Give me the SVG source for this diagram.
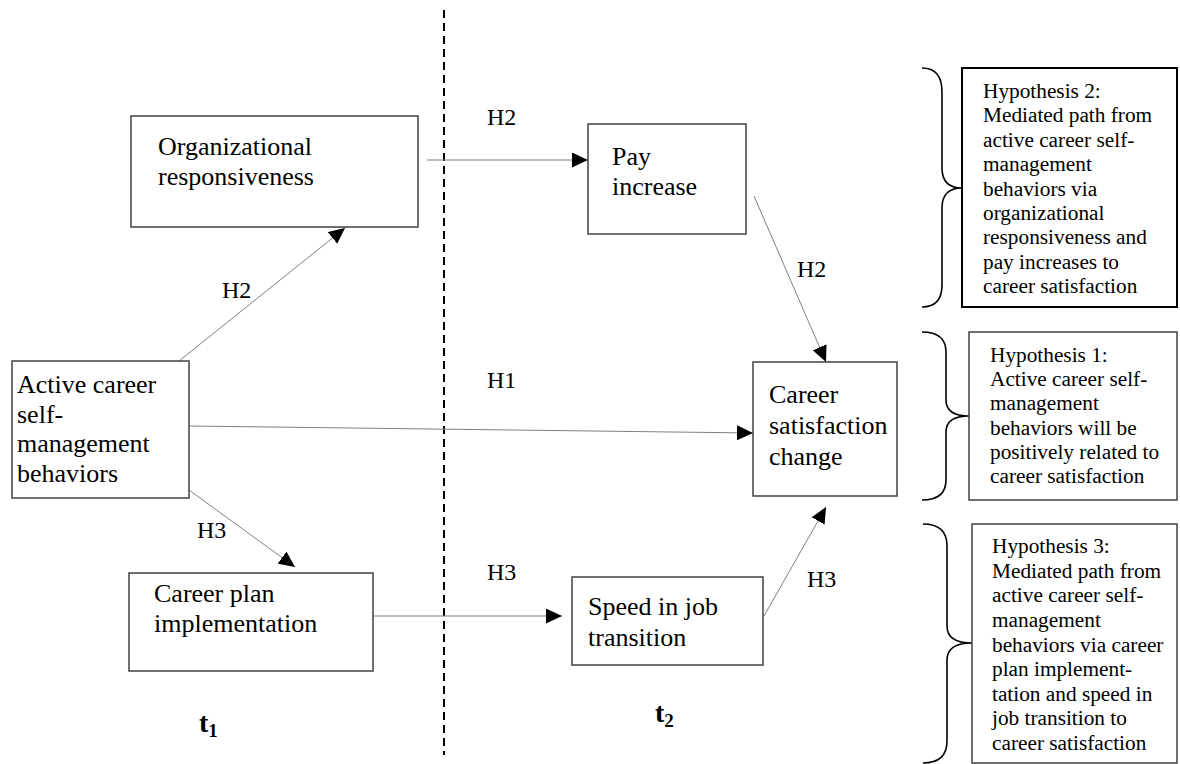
<svg xmlns="http://www.w3.org/2000/svg" width="1180" height="764" viewBox="0 0 1180 764">
<defs>
<style>
.box{fill:#fff;stroke:#404040;stroke-width:1.5}
.hbox{fill:#fff;stroke:#000;stroke-width:2}
.t{font-family:"Liberation Serif","Times New Roman",serif;font-size:26px;fill:#000}
.h{font-family:"Liberation Serif","Times New Roman",serif;font-size:21.3px;fill:#000}
.lbl{font-family:"Liberation Serif","Times New Roman",serif;font-size:24px;fill:#000}
.tb{font-family:"Liberation Serif","Times New Roman",serif;font-size:28px;font-weight:bold;fill:#000}
.c{fill:none;stroke:#808080;stroke-width:1}
.br{fill:none;stroke:#000;stroke-width:1.6}
</style>
<marker id="ah" markerUnits="userSpaceOnUse" markerWidth="17" markerHeight="15" refX="16" refY="7.5" orient="auto">
<path d="M0,0 L16,7.5 L0,15 z" fill="#000"/>
</marker>
</defs>
<rect width="1180" height="764" fill="#fff"/>

<line x1="444" y1="10" x2="444" y2="755" stroke="#000" stroke-width="2" stroke-dasharray="8,5"/>

<g id="connectors">
<line class="c" x1="179" y1="361" x2="345" y2="228" marker-end="url(#ah)"/>
<line class="c" x1="427" y1="160" x2="588" y2="160" marker-end="url(#ah)"/>
<line class="c" x1="754" y1="196" x2="826" y2="362" marker-end="url(#ah)"/>
<line class="c" x1="189" y1="426" x2="753" y2="433" marker-end="url(#ah)"/>
<line class="c" x1="189" y1="490" x2="295" y2="567" marker-end="url(#ah)"/>
<line class="c" x1="371" y1="616" x2="562" y2="616" marker-end="url(#ah)"/>
<line class="c" x1="764" y1="616" x2="826" y2="507" marker-end="url(#ah)"/>
<text class="lbl" x="222" y="298">H2</text>
<text class="lbl" x="487" y="125">H2</text>
<text class="lbl" x="797" y="277">H2</text>
<text class="lbl" x="487" y="388">H1</text>
<text class="lbl" x="197" y="538">H3</text>
<text class="lbl" x="487" y="580">H3</text>
<text class="lbl" x="807" y="587">H3</text>
</g>

<g id="org">
<rect class="box" x="131" y="116" width="287" height="111"/>
<text class="t" x="158" y="155">Organizational</text>
<text class="t" x="158" y="185">responsiveness</text>
</g>

<g id="pay">
<rect class="box" x="588" y="124" width="158" height="110"/>
<text class="t" x="612" y="165">Pay</text>
<text class="t" x="612" y="195">increase</text>
</g>

<g id="active">
<rect class="box" x="12" y="361" width="177" height="137"/>
<text class="t" x="17" y="393">Active career</text>
<text class="t" x="17" y="423">self-</text>
<text class="t" x="17" y="452">management</text>
<text class="t" x="17" y="482">behaviors</text>
</g>

<g id="satisfaction">
<rect class="box" x="753" y="362" width="144" height="134"/>
<text class="t" x="769" y="403">Career</text>
<text class="t" x="769" y="434">satisfaction</text>
<text class="t" x="769" y="465">change</text>
</g>

<g id="plan">
<rect class="box" x="129" y="573" width="244" height="98"/>
<text class="t" x="154" y="602">Career plan</text>
<text class="t" x="154" y="632">implementation</text>
</g>

<g id="speed">
<rect class="box" x="572" y="577" width="191" height="88"/>
<text class="t" x="588" y="615">Speed in job</text>
<text class="t" x="588" y="646">transition</text>
</g>

<g id="t1"><text class="tb" x="199" y="732">t<tspan font-size="19" dy="5">1</tspan></text></g>
<g id="t2"><text class="tb" x="655" y="722">t<tspan font-size="19" dy="5">2</tspan></text></g>

<g id="hyp2">
<path class="br" d="M922,68 C935,68 942,76 942,92 L942,168 C942,182 950,188 962,188 C950,188 942,194 942,208 L942,285 C942,300 935,307 922,307"/>
<rect class="hbox" x="962" y="68" width="215" height="239"/>
<text class="h" x="983" y="98">Hypothesis 2:</text>
<text class="h" x="983" y="122">Mediated path from</text>
<text class="h" x="983" y="147">active career self-</text>
<text class="h" x="983" y="171">management</text>
<text class="h" x="983" y="196">behaviors via</text>
<text class="h" x="983" y="220">organizational</text>
<text class="h" x="983" y="244">responsiveness and</text>
<text class="h" x="983" y="269">pay increases to</text>
<text class="h" x="983" y="293">career satisfaction</text>
</g>

<g id="hyp1">
<path class="br" d="M922,332 C938,332 946,338 946,352 L946,400 C946,411 955,416 969,416 C955,416 946,421 946,432 L946,480 C946,494 938,500 922,500"/>
<rect class="box" x="969" y="332" width="208" height="168"/>
<text class="h" x="990" y="362">Hypothesis 1:</text>
<text class="h" x="990" y="386">Active career self-</text>
<text class="h" x="990" y="410">management</text>
<text class="h" x="990" y="435">behaviors will be</text>
<text class="h" x="990" y="459">positively related to</text>
<text class="h" x="990" y="483">career satisfaction</text>
</g>

<g id="hyp3">
<path class="br" d="M923,524 C939,524 947,531 947,546 L947,626 C947,638 957,643 972,643 C957,643 947,648 947,660 L947,741 C947,756 939,763 923,763"/>
<rect class="box" x="972" y="524" width="205" height="239"/>
<text class="h" x="992" y="553">Hypothesis 3:</text>
<text class="h" x="992" y="578">Mediated path from</text>
<text class="h" x="992" y="602">active career self-</text>
<text class="h" x="992" y="627">management</text>
<text class="h" x="992" y="652">behaviors via career</text>
<text class="h" x="992" y="676">plan implement-</text>
<text class="h" x="992" y="701">tation and speed in</text>
<text class="h" x="992" y="725">job transition to</text>
<text class="h" x="992" y="750">career satisfaction</text>
</g>
</svg>
